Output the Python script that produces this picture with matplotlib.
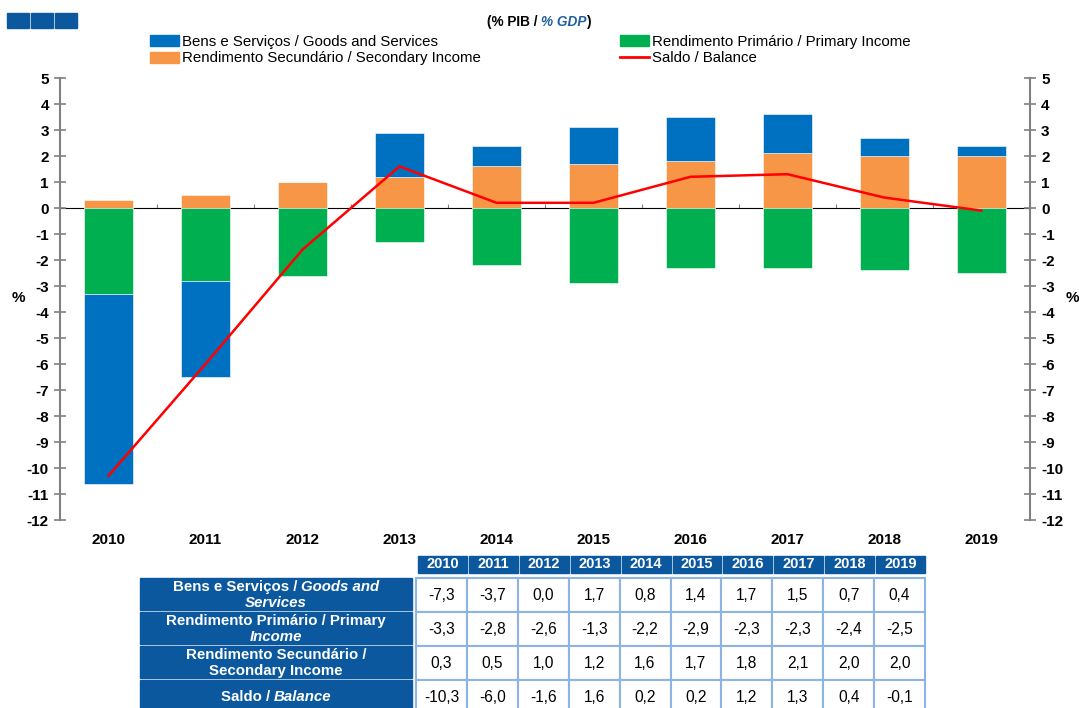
import matplotlib
matplotlib.use("Agg")
import matplotlib.pyplot as plt
import matplotlib.patches as mpatches
from matplotlib.lines import Line2D
import numpy as np

plt.rcParams['font.family'] = ['Liberation Sans', 'DejaVu Sans']
plt.rcParams['axes.unicode_minus'] = False

# data
years = ["2010", "2011", "2012", "2013", "2014", "2015", "2016", "2017", "2018", "2019"]
goods = [-7.3, -3.7, 0.0, 1.7, 0.8, 1.4, 1.7, 1.5, 0.7, 0.4]
primary = [-3.3, -2.8, -2.6, -1.3, -2.2, -2.9, -2.3, -2.3, -2.4, -2.5]
secondary = [0.3, 0.5, 1.0, 1.2, 1.6, 1.7, 1.8, 2.1, 2.0, 2.0]
balance = [-10.3, -6.0, -1.6, 1.6, 0.2, 0.2, 1.2, 1.3, 0.4, -0.1]

lbl_goods = "Bens e Serviços / Goods and Services"
lbl_primary = "Rendimento Primário / Primary Income"
lbl_secondary = "Rendimento Secundário / Secondary Income"
lbl_balance = "Saldo / Balance"

# row labels of the table: list of lines, each line a list of (text, italic)
row_labels = [
    [[("Bens e Serviços / ", False), ("Goods and", True)], [("Services", True)]],
    [[("Rendimento Primário / Primary", False)], [("Income", True)]],
    [[("Rendimento Secundário /", False)], [("Secondary Income", False)]],
    [[("Saldo / ", False), ("Balance", True)]],
]
table_rows = [goods, primary, secondary, balance]

c_goods = "#0070C0"
c_primary = "#00B050"
c_secondary = "#F79646"
c_line = "#FF0000"
c_head = "#0B589F"
c_grid = "#8EB4E3"

W, H = 1079, 708
fig = plt.figure(figsize=(W / 100, H / 100), dpi=100)

# overlay axes in pixel units for table / decorations
ov = fig.add_axes([0, 0, 1, 1])
ov.set_xlim(0, W)
ov.set_ylim(H, 0)
ov.axis("off")

ax = fig.add_axes([60 / W, 1 - 520 / H, 970 / W, 442 / H])
x = np.arange(len(years))

pos = np.zeros(len(years))
neg = np.zeros(len(years))
for vals, col in [(secondary, c_secondary), (primary, c_primary), (goods, c_goods)]:
    vals = np.array(vals)
    bottoms = np.where(vals >= 0, pos, neg)
    ax.bar(x, vals, bottom=bottoms, width=0.5, color=col, edgecolor="white", linewidth=0.4, zorder=2)
    pos = pos + np.where(vals >= 0, vals, 0)
    neg = neg + np.where(vals < 0, vals, 0)

ax.plot(x, balance, color=c_line, lw=1.8, zorder=4)

ax.set_xlim(-0.5, len(years) - 0.5)
ax.set_ylim(-12, 5)
ax.set_yticks(range(-12, 6))
ax.tick_params(axis="y", direction="inout", length=8, width=1.2, color="#808080",
               labelsize=11, pad=4, right=True, labelright=True)
for lab in ax.get_yticklabels():
    lab.set_fontweight("bold")
ax.set_xticks(x)
ax.set_xticklabels(years, fontweight="bold", fontsize=11)
ax.tick_params(axis="x", length=0, pad=9)
for s in ["top", "bottom"]:
    ax.spines[s].set_visible(False)
for s in ["left", "right"]:
    ax.spines[s].set_color("#808080")
    ax.spines[s].set_linewidth(1.5)

# zero line with category boundary ticks
zero = ax.secondary_xaxis(12 / 17)
zero.set_xticks(np.arange(-0.5, len(years), 1.0))
zero.set_xticklabels([])
zero.tick_params(direction="out", length=3, color="#808080")
zero.spines["bottom"].set_color("black")
zero.spines["bottom"].set_linewidth(1.0)

fig.text(18 / W, 1 - 298 / H, "%", fontweight="bold", fontsize=11, ha="center", va="center")
fig.text(1072 / W, 1 - 298 / H, "%", fontweight="bold", fontsize=11, ha="center", va="center")

# legends
h_goods = mpatches.Patch(color=c_goods)
h_primary = mpatches.Patch(color=c_primary)
h_secondary = mpatches.Patch(color=c_secondary)
h_line = Line2D([], [], color=c_line, lw=2)
leg_kw = dict(loc="upper left", frameon=False, handlelength=1.9, handleheight=0.75,
              handletextpad=0.25, labelspacing=0.15, borderpad=0, borderaxespad=0, fontsize=10.8)
fig.legend([h_goods, h_secondary], [lbl_goods, lbl_secondary],
           bbox_to_anchor=(150 / W, 1 - 35 / H), **leg_kw)
fig.legend([h_primary, h_line], [lbl_primary, lbl_balance],
           bbox_to_anchor=(620 / W, 1 - 35 / H), **leg_kw)

renderer = fig.canvas.get_renderer()


def styled_line(segments, xc, y, **kw):
    texts = []
    for seg in segments:
        txt, it = seg[0], seg[1]
        col = seg[2] if len(seg) > 2 else kw.get("color", "black")
        t = ov.text(0, y, txt, fontstyle="italic" if it else "normal", va="center", ha="left",
                    fontweight="bold", fontsize=kw.get("fontsize", 10), color=col)
        texts.append(t)
    widths = [t.get_window_extent(renderer).width for t in texts]
    xs = xc - sum(widths) / 2
    for t, w in zip(texts, widths):
        t.set_x(xs)
        xs += w


# subtitle
styled_line([("(% PIB / ", False), ("% GDP", True, "#1F5F9F"), (")", False)], 539, 22, fontsize=9.8)

# blue squares top left
for i in range(3):
    ov.add_patch(mpatches.Rectangle((7 + i * 24, 13), 22, 15, color=c_head))

# table
col_x0, col_w = 416, 50.9
hdr_top, hdr_h = 556, 17
row_top, row_h = 578, 34
lab_x0, lab_x1 = 140, 412
for j, yr in enumerate(years):
    cx = col_x0 + j * col_w
    ov.add_patch(mpatches.Rectangle((cx + 2, hdr_top), col_w - 2, hdr_h, color=c_head))
    ov.text(cx + col_w / 2 + 1, hdr_top + hdr_h / 2, yr, color="white", fontweight="bold",
            fontsize=10.5, ha="center", va="center")

for i, (lines, vals) in enumerate(zip(row_labels, table_rows)):
    ry = row_top + i * row_h
    ov.add_patch(mpatches.Rectangle((lab_x0, ry), lab_x1 - lab_x0, row_h - 2, color=c_head))
    n = len(lines)
    for k, segs in enumerate(lines):
        ly = ry + (row_h - 2) / 2 + (k - (n - 1) / 2) * 16
        styled_line(segs, (lab_x0 + lab_x1) / 2, ly + 1, color="white", fontsize=10.8)
    for j, v in enumerate(vals):
        cx = col_x0 + j * col_w
        ov.add_patch(mpatches.Rectangle((cx, ry), col_w, row_h, facecolor="white",
                                        edgecolor=c_grid, linewidth=1.5))
        ov.text(cx + col_w / 2, ry + row_h / 2, f"{v:.1f}".replace(".", ","), fontsize=11.2,
                ha="center", va="center", color="black")

fig.savefig("out.png", dpi=100)
